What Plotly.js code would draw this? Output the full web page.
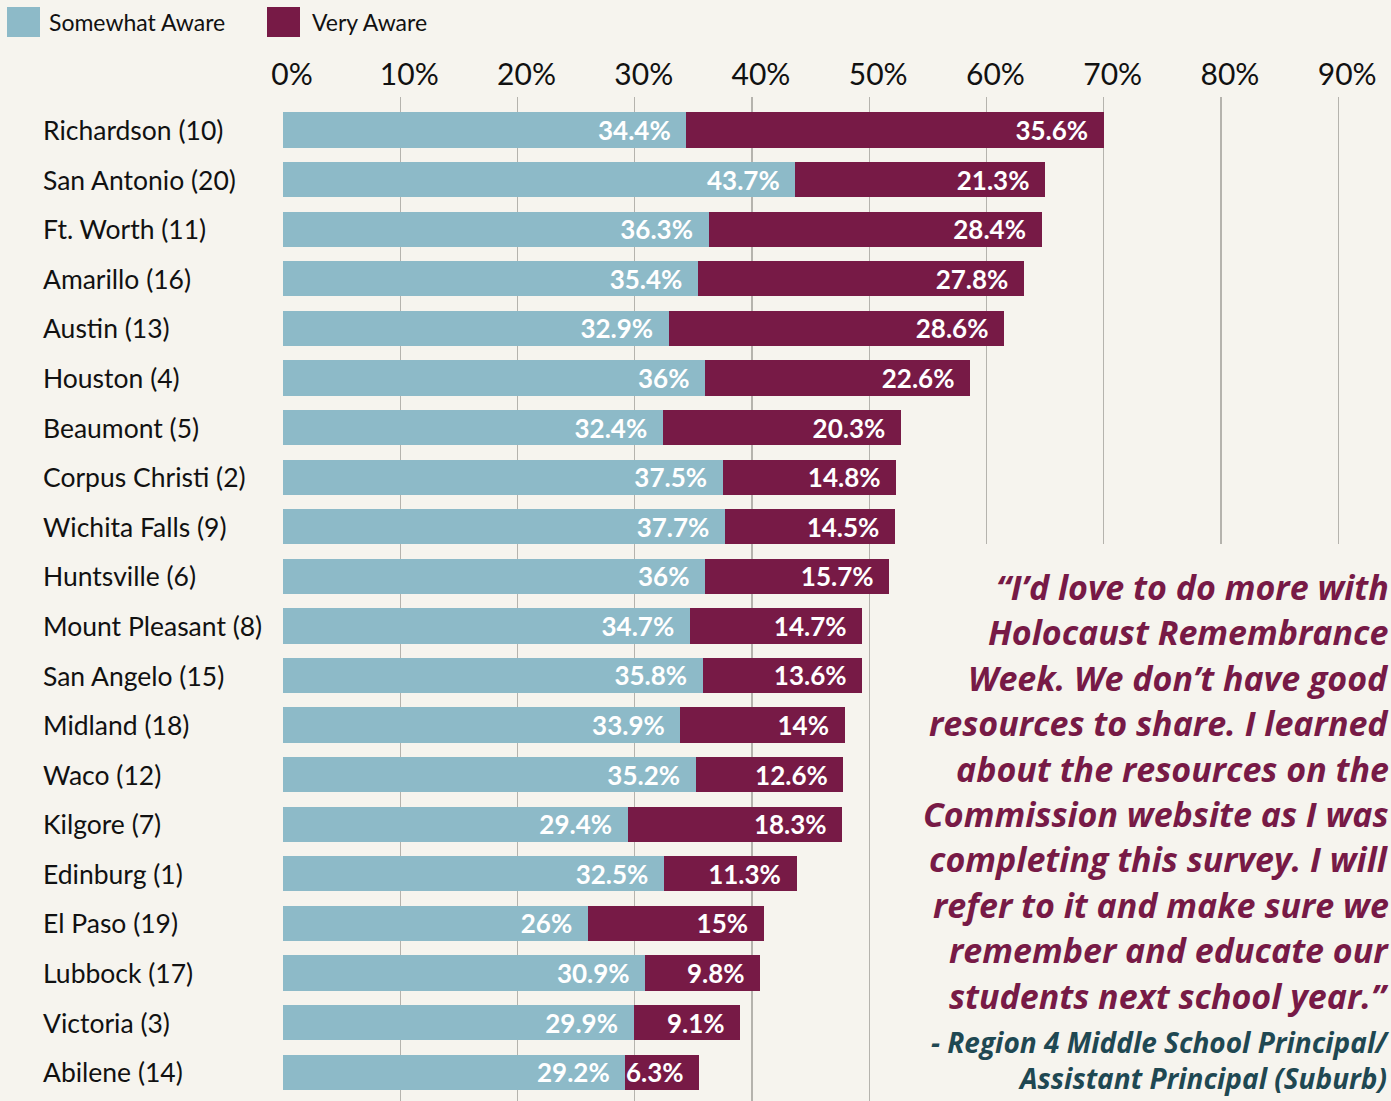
<!DOCTYPE html>
<html>
<head>
<meta charset="utf-8">
<script src="https://cdn.plot.ly/plotly-3.0.1.min.js"></script>
<style>
html,body{margin:0;padding:0;background:#f6f4ee;}
#chart{width:1391px;height:1101px;}
</style>
</head>
<body>
<div id="chart"></div>
<script>
// ---- data ----
var regions = ["Richardson (10)","San Antonio (20)","Ft. Worth (11)","Amarillo (16)","Austin (13)",
  "Houston (4)","Beaumont (5)","Corpus Christi (2)","Wichita Falls (9)","Huntsville (6)",
  "Mount Pleasant (8)","San Angelo (15)","Midland (18)","Waco (12)","Kilgore (7)",
  "Edinburg (1)","El Paso (19)","Lubbock (17)","Victoria (3)","Abilene (14)"];
var somewhatAware = [34.4,43.7,36.3,35.4,32.9,36,32.4,37.5,37.7,36,34.7,35.8,33.9,35.2,29.4,32.5,26,30.9,29.9,29.2];
var veryAware = [35.6,21.3,28.4,27.8,28.6,22.6,20.3,14.8,14.5,15.7,14.7,13.6,14,12.6,18.3,11.3,15,9.8,9.1,6.3];
var seriesNames = ["Somewhat Aware","Very Aware"];
var tickValues = [0,10,20,30,40,50,60,70,80,90];
var tickLabels = ["0%","10%","20%","30%","40%","50%","60%","70%","80%","90%"];
var quoteLines = ["\u201CI\u2019d love to do more with","Holocaust Remembrance","Week. We don\u2019t have good",
  "resources to share. I learned","about the resources on the","Commission website as I was",
  "completing this survey. I will","refer to it and make sure we","remember and educate our",
  "students next school year.\u201D"];
var attributionLines = ["- Region 4 Middle School Principal/","Assistant Principal (Suburb)"];

// ---- style ----
var W = 1391, H = 1101, L = 283, T = 97;
var BLUE = "#8dbac8", MAROON = "#771a46", BG = "#f6f4ee", TEAL = "#1f4852";
var FONT = "Lato, 'Open Sans', sans-serif";
var QFONT = "'Open Sans', Lato, sans-serif";
function px2x(px){ return (px - L) / (W - L); }
function px2y(py){ return 1 - (py - T) / (H - T); }

var pad = "\u00a0\u00a0";
var traces = [
  {type:"bar", orientation:"h", name:seriesNames[0], y:regions, x:somewhatAware,
   marker:{color:BLUE}, text:somewhatAware.map(function(v){return v+"%"+pad;}),
   textposition:"inside", insidetextanchor:"end", constraintext:"none",
   textfont:{color:"#ffffff", size:26, family:FONT, weight:"bold"}, hoverinfo:"skip"},
  {type:"bar", orientation:"h", name:seriesNames[1], y:regions, x:veryAware,
   marker:{color:MAROON}, text:veryAware.map(function(v){return v+"%"+pad;}),
   textposition:"inside", insidetextanchor:"end", constraintext:"none",
   textfont:{color:"#ffffff", size:26, family:FONT, weight:"bold"}, hoverinfo:"skip"}
];

var annotations = [];
regions.forEach(function(r){
  annotations.push({xref:"paper", yref:"y", x:px2x(41), y:r, xanchor:"left", yanchor:"middle",
    text:r, showarrow:false, font:{size:26.5, color:"#111111", family:FONT}});
});
var qTop = 587, qStep = 45.4;
quoteLines.forEach(function(line,i){
  annotations.push({xref:"paper", yref:"paper", x:px2x(1391), y:px2y(qTop + i*qStep),
    xanchor:"right", yanchor:"middle", text:line, showarrow:false,
    font:{size:34, color:MAROON, family:QFONT, weight:"bold", style:"italic"}});
});
annotations.push({xref:"paper", yref:"paper", x:px2x(1391), y:px2y(1060),
  xanchor:"right", yanchor:"middle", align:"right", text:attributionLines.join("<br>"), showarrow:false,
  font:{size:28, color:TEAL, family:QFONT, weight:"bold", style:"italic"}});
// legend
var legendItems = [{x0:7, x1:40, tx:47, color:BLUE},{x0:267, x1:300, tx:310, color:MAROON}];
var shapes = [];
legendItems.forEach(function(it,i){
  shapes.push({type:"rect", xref:"paper", yref:"paper", x0:px2x(it.x0), x1:px2x(it.x1),
    y0:px2y(7), y1:px2y(37), fillcolor:it.color, line:{width:0}});
  annotations.push({xref:"paper", yref:"paper", x:px2x(it.tx), y:px2y(22), xanchor:"left",
    yanchor:"middle", text:seriesNames[i], showarrow:false, font:{size:23, color:"#111111", family:FONT}});
});
// panel behind the quote (hides gridlines there)
shapes.push({type:"rect", xref:"paper", yref:"paper", x0:px2x(900), x1:1,
  y0:0, y1:px2y(544), fillcolor:BG, line:{width:0}});

var layout = {
  width:W, height:H, margin:{l:L, r:0, t:T, b:0, pad:0},
  paper_bgcolor:BG, plot_bgcolor:BG, barmode:"stack", bargap:0.29, showlegend:false,
  font:{family:FONT},
  xaxis:{side:"top", range:[0,94.5], tickvals:tickValues, ticktext:tickLabels,
    tickfont:{size:30, color:"#111111", family:FONT}, showgrid:true, gridcolor:"#b5b3ad",
    gridwidth:1.2, zeroline:false, showline:false, ticks:"", ticklabelstandoff:5,
    ticklabelshift:9, fixedrange:true},
  yaxis:{type:"category", categoryorder:"array", categoryarray:regions, range:[19.58,-0.665],
    showticklabels:false, showgrid:false, zeroline:false, showline:false, ticks:"", fixedrange:true},
  annotations:annotations, shapes:shapes
};
Plotly.newPlot("chart", traces, layout, {displayModeBar:false, staticPlot:true});
</script>
</body>
</html>
